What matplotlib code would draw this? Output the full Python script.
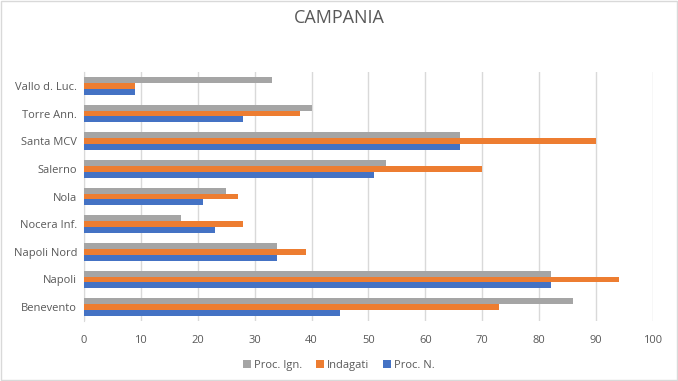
import numpy as np
from matplotlib import pyplot as plt
from matplotlib.patches import Rectangle

plt.rcParams['font.family'] = ['Open Sans', 'DejaVu Sans']

# Courts, bottom to top
Courts = ['Benevento', 'Napoli', 'Napoli Nord', 'Nocera Inf.', 'Nola',
          'Salerno', 'Santa MCV', 'Torre Ann.', 'Vallo d. Luc.']

Proc_N = [45, 82, 34, 23, 21, 51, 66, 28, 9]
Indagati = [73, 94, 39, 28, 27, 70, 90, 38, 9]
Proc_Ign = [86, 82, 34, 17, 25, 53, 66, 40, 33]

grey_txt = '#595959'
fig = plt.figure(figsize=(6.78, 3.81), dpi=100)
ax = fig.add_axes([0.1239, 0.1575, 0.8392, 0.6535])

y = np.arange(len(Courts))
h = 0.215
ax.barh(y - h, Proc_N, height=h, color='#4472C4', label='Proc. N.', zorder=3)
ax.barh(y, Indagati, height=h, color='#ED7D31', label='Indagati', zorder=3)
ax.barh(y + h, Proc_Ign, height=h, color='#A5A5A5', label='Proc. Ign.', zorder=3)

ax.set_xlim(0, 100)
ax.set_ylim(-0.5, len(Courts) - 0.5)
ax.set_xticks(range(0, 101, 10))
ax.set_yticks(y)
ax.set_yticklabels(Courts)
ax.grid(axis='x', color='#D9D9D9', lw=1, zorder=0)
for s in ['top', 'right', 'bottom']:
    ax.spines[s].set_visible(False)
ax.spines['left'].set_color('#D9D9D9')
ax.tick_params(axis='both', length=0, labelsize=8, colors=grey_txt)
ax.tick_params(axis='y', pad=5)
ax.tick_params(axis='x', pad=10)

fig.text(0.5, 0.953, 'CAMPANIA', ha='center', va='center', fontsize=13, color=grey_txt)

handles, labels = ax.get_legend_handles_labels()
ax.legend(handles[::-1], labels[::-1], loc='center', bbox_to_anchor=(0.5, 0.04),
          bbox_transform=fig.transFigure, ncol=3, frameon=False, fontsize=8,
          labelcolor=grey_txt, handlelength=0.7, handleheight=0.7,
          handletextpad=0.3, columnspacing=1.2)

fig.patches.append(Rectangle((0.001, 0.002), 0.997, 0.996, transform=fig.transFigure,
                             fill=False, edgecolor='#D9D9D9', lw=1))

plt.savefig('out.png', dpi=100)
